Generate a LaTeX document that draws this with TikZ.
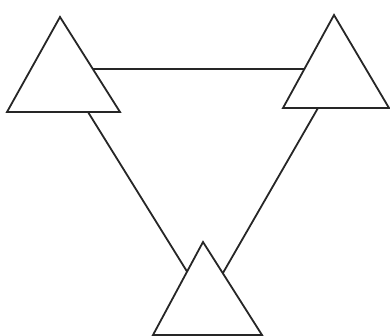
\documentclass[tikz,border=0pt]{standalone}
\begin{document}
\begin{tikzpicture}[x=1pt,y=-1pt,
  tri/.style={draw=black!85, line width=1.8pt, fill=white, line join=miter},
  link/.style={draw=black!85, line width=1.8pt}]
\useasboundingbox (0,0) rectangle (390,336);
% anchor coordinates
\coordinate (a1) at (88,112);
\coordinate (a2) at (196,286);
\coordinate (b1) at (318,108);
\coordinate (b2) at (212,292);
\coordinate (h1) at (80,69);
\coordinate (h2) at (320,69);
\draw[link] (h1) -- (h2);
\draw[link] (a1) -- (a2);
\draw[link] (b1) -- (b2);
% triangles
\draw[tri] (60,17) -- (7,112) -- (120,112) -- cycle;
\draw[tri] (334,15) -- (283,108) -- (389,108) -- cycle;
\draw[tri] (203,242) -- (153,335) -- (262,335) -- cycle;
\end{tikzpicture}
\end{document}
